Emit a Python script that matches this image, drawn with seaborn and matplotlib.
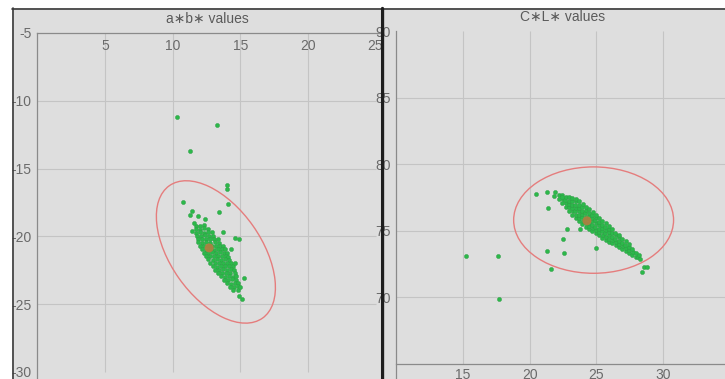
import numpy as np
import pandas as pd
import seaborn as sns
import matplotlib.pyplot as plt
from matplotlib.patches import Ellipse
from matplotlib.lines import Line2D
from matplotlib.ticker import MultipleLocator, FixedLocator

# ---- data: a*b* panel ----
ab_cluster = [
    (11.70, -19.20), (12.00, -19.25), (12.30, -19.15),
    (11.72, -19.45), (12.00, -19.50), (12.30, -19.42), (12.58, -19.48),
    (11.75, -19.72), (12.05, -19.68), (12.35, -19.74), (12.65, -19.70), (12.90, -19.66),
    (11.80, -19.95), (12.10, -19.98), (12.40, -19.93), (12.70, -19.97), (13.00, -19.95),
    (11.85, -20.20), (12.15, -20.23), (12.45, -20.18), (12.75, -20.22), (13.05, -20.20), (13.35, -20.16),
    (11.90, -20.45), (12.20, -20.48), (12.50, -20.43), (12.80, -20.47), (13.10, -20.44), (13.45, -20.46),
    (12.00, -20.70), (12.30, -20.73), (12.60, -20.68), (12.90, -20.72), (13.20, -20.69), (13.50, -20.71), (13.75, -20.70),
    (12.15, -20.95), (12.45, -20.98), (12.75, -20.93), (13.05, -20.97), (13.35, -20.94), (13.65, -20.96), (13.85, -20.92),
    (12.30, -21.20), (12.60, -21.23), (12.90, -21.18), (13.20, -21.22), (13.50, -21.19), (13.80, -21.21), (14.00, -21.20),
    (12.45, -21.45), (12.75, -21.48), (13.05, -21.43), (13.35, -21.47), (13.65, -21.44), (13.95, -21.46), (14.10, -21.50),
    (12.65, -21.70), (12.95, -21.73), (13.25, -21.68), (13.55, -21.72), (13.85, -21.69), (14.20, -21.71),
    (12.80, -21.95), (13.10, -21.98), (13.40, -21.93), (13.70, -21.97), (14.00, -21.94), (14.30, -21.96),
    (12.95, -22.20), (13.25, -22.23), (13.55, -22.18), (13.85, -22.22), (14.15, -22.19), (14.45, -22.21),
    (13.15, -22.45), (13.45, -22.48), (13.75, -22.43), (14.05, -22.47), (14.35, -22.44), (14.55, -22.46),
    (13.35, -22.70), (13.65, -22.73), (13.95, -22.68), (14.25, -22.72), (14.60, -22.69),
    (13.55, -22.95), (13.85, -22.98), (14.15, -22.93), (14.45, -22.97), (14.70, -22.94),
    (13.80, -23.20), (14.10, -23.23), (14.40, -23.18), (14.70, -23.22),
    (14.00, -23.45), (14.30, -23.48), (14.60, -23.43), (14.85, -23.47),
    (14.25, -23.70), (14.55, -23.73), (14.85, -23.68),
    (14.50, -23.95), (14.80, -23.98),
]
ab_scatter = [
    (10.3, -11.2), (13.3, -11.8), (11.3, -13.7), (14.0, -16.2), (14.0, -16.5),
    (14.1, -17.6), (10.8, -17.5), (11.4, -18.1), (11.3, -18.4), (11.9, -18.5),
    (12.4, -18.7), (13.4, -18.2), (13.7, -19.7), (14.6, -20.1), (14.9, -20.2),
    (15.3, -23.1), (15.1, -24.6), (14.9, -24.4), (11.55, -19.0), (11.4, -19.6),
    (14.3, -20.9), (14.6, -22.0), (15.0, -23.7),
]
ab_mean = (12.7, -20.85)
ab_ellipse = dict(center=(13.2, -21.15), width=11.95, height=6.7, angle=-54.8)

# ---- data: C*L* panel ----
cl_cluster = [
    (22.20, 77.40), (22.22, 77.70),
    (22.45, 77.10), (22.47, 77.40), (22.43, 77.65),
    (22.70, 76.80), (22.72, 77.05), (22.68, 77.30), (22.70, 77.55),
    (22.95, 76.50), (22.97, 76.75), (22.93, 77.00), (22.96, 77.25), (22.94, 77.50),
    (23.20, 76.20), (23.22, 76.45), (23.18, 76.70), (23.21, 76.95), (23.19, 77.20), (23.20, 77.45),
    (23.45, 75.95), (23.47, 76.20), (23.43, 76.45), (23.46, 76.70), (23.44, 76.95), (23.45, 77.20), (23.47, 77.35),
    (23.70, 75.70), (23.72, 75.95), (23.68, 76.20), (23.71, 76.45), (23.69, 76.70), (23.70, 76.95), (23.72, 77.20),
    (23.95, 75.50), (23.97, 75.75), (23.93, 76.00), (23.96, 76.25), (23.94, 76.50), (23.95, 76.75), (23.97, 77.00),
    (24.20, 75.30), (24.22, 75.55), (24.18, 75.80), (24.21, 76.05), (24.19, 76.30), (24.20, 76.55), (24.22, 76.80),
    (24.45, 75.10), (24.47, 75.35), (24.43, 75.60), (24.46, 75.85), (24.44, 76.10), (24.45, 76.35), (24.47, 76.60),
    (24.70, 74.95), (24.72, 75.20), (24.68, 75.45), (24.71, 75.70), (24.69, 75.95), (24.70, 76.20), (24.72, 76.40),
    (24.95, 74.80), (24.97, 75.05), (24.93, 75.30), (24.96, 75.55), (24.94, 75.80), (24.95, 76.05), (24.97, 76.20),
    (25.20, 74.65), (25.22, 74.90), (25.18, 75.15), (25.21, 75.40), (25.19, 75.65), (25.20, 75.95),
    (25.45, 74.45), (25.47, 74.70), (25.43, 74.95), (25.46, 75.20), (25.44, 75.45), (25.45, 75.75),
    (25.70, 74.30), (25.72, 74.55), (25.68, 74.80), (25.71, 75.05), (25.69, 75.30), (25.70, 75.55),
    (25.95, 74.15), (25.97, 74.40), (25.93, 74.65), (25.96, 74.90), (25.94, 75.15), (25.95, 75.35),
    (26.20, 74.05), (26.22, 74.30), (26.18, 74.55), (26.21, 74.80), (26.19, 75.10),
    (26.45, 73.90), (26.47, 74.15), (26.43, 74.40), (26.46, 74.65), (26.44, 74.85),
    (26.70, 73.75), (26.72, 74.00), (26.68, 74.25), (26.71, 74.50), (26.69, 74.65),
    (26.95, 73.60), (26.97, 73.85), (26.93, 74.10), (26.96, 74.40),
    (27.20, 73.45), (27.22, 73.70), (27.18, 73.95), (27.21, 74.20),
    (27.45, 73.30), (27.47, 73.55), (27.43, 73.80), (27.46, 74.00),
    (27.70, 73.15), (27.72, 73.40), (27.68, 73.65),
    (27.95, 73.05), (27.97, 73.30),
    (28.15, 73.00), (28.17, 73.20),
]
cl_scatter = [
    (15.2, 73.1), (17.6, 73.1), (17.7, 69.9), (20.5, 77.8), (21.3, 77.9),
    (21.4, 76.7), (22.8, 75.15), (22.5, 74.4), (21.3, 73.5), (22.6, 73.35),
    (21.6, 72.1), (23.8, 75.1), (25.0, 73.7), (28.4, 71.9), (28.6, 72.3),
    (28.8, 72.3), (21.8, 77.6), (22.4, 77.5), (28.3, 72.9), (21.9, 77.9),
]
cl_mean = (24.3, 75.75)
cl_ellipse = dict(center=(24.8, 75.8), width=12.0, height=8.0, angle=0)

ab_xticks = [5, 10, 15, 20, 25]
ab_yticks = [-5, -10, -15, -20, -25, -30]
cl_xticks = [15, 20, 25, 30, 35]
cl_yticks = [70, 75, 80, 85, 90]

green = '#2cb84a'
panel_bg = '#dedede'
grid_c = '#c4c4c4'
axis_c = '#8a8a8a'
text_c = '#6a6a6a'

sns.set_style('white')
plt.rcParams['font.family'] = ['Liberation Sans', 'DejaVu Sans']
plt.rcParams['axes.unicode_minus'] = False

fig = plt.figure(figsize=(7.25, 3.79), dpi=100)
W, H = 725, 379
ax1 = fig.add_axes([12 / W, 0, (380 - 12) / W, (H - 8) / H])
ax2 = fig.add_axes([384 / W, 0, (W - 384) / W, (H - 8) / H])


def draw_panel(ax, cluster, scatter, mean, ell, xticks, yticks, xr, yr, x0, y0, title, tpos):
    ax.set_facecolor(panel_bg)
    # grid limited to the plot range
    ax.vlines([t for t in xticks if xr[0] < t < xr[1]], yr[0], yr[1], color=grid_c, lw=0.8, zorder=0)
    ax.hlines([t for t in yticks if yr[0] < t < yr[1]], xr[0], xr[1], color=grid_c, lw=0.8, zorder=0)

    pts = pd.DataFrame(cluster + scatter, columns=['x', 'y'])
    sns.scatterplot(data=pts, x='x', y='y', ax=ax, color=green, s=9,
                    edgecolor='#2f9a45', linewidth=0.3, legend=False, zorder=3)
    ax.scatter([mean[0]], [mean[1]], s=42, color='#bb7a40', alpha=0.85,
               edgecolor='none', zorder=4)
    ax.add_patch(Ellipse(ell['center'], ell['width'], ell['height'], angle=ell['angle'],
                         fill=False, edgecolor='#e57d7d', lw=1.0, zorder=5))

    for s in ['top', 'right']:
        ax.spines[s].set_visible(False)
    ax.spines['left'].set_position(('data', x0))
    ax.spines['bottom'].set_position(('data', y0))
    ax.spines['left'].set_bounds(yr[0] - 2, yr[1])
    ax.spines['bottom'].set_bounds(xr[0], xr[1] + 2)
    for s in ['left', 'bottom']:
        ax.spines[s].set_color(axis_c)
        ax.spines[s].set_linewidth(0.9)

    ax.xaxis.set_major_locator(FixedLocator(xticks))
    ax.yaxis.set_major_locator(FixedLocator(yticks))
    ax.xaxis.set_minor_locator(MultipleLocator(1))
    ax.yaxis.set_minor_locator(MultipleLocator(1))
    ax.tick_params(which='major', length=3, width=0.7, color=axis_c,
                   labelsize=10, labelcolor=text_c, pad=1)
    ax.tick_params(which='minor', length=1.5, width=0.5, color=axis_c)
    ax.set_xlabel('')
    ax.set_ylabel('')
    ax.text(tpos[0], tpos[1], title, ha='center', va='center',
            fontsize=10, color='#5a5a5a')


draw_panel(ax1, ab_cluster, ab_scatter, ab_mean, ab_ellipse, ab_xticks, ab_yticks,
           (0, 25), (-30, -5), 0, -5, 'a\u2217b\u2217 values', (12.6, -3.95))
ax1.set_xlim(-1.87, 25.33)
ax1.set_ylim(-30.52, -3.16)

draw_panel(ax2, cl_cluster, cl_scatter, cl_mean, cl_ellipse, cl_xticks, cl_yticks,
           (10, 35), (65, 90), 10, 65, 'C\u2217L\u2217 values', (22.5, 91.1))
ax2.set_xlim(9.07, 34.66)
ax2.set_ylim(63.85, 91.75)
ax2.tick_params(axis='x', which='major', pad=0)

# panel frame lines
fig.add_artist(Line2D([12 / W, 1], [1 - 8.5 / H] * 2, color='#3a3a3a', lw=1.2))
fig.add_artist(Line2D([12.5 / W] * 2, [0, 1 - 8 / H], color='#3a3a3a', lw=1.2))
fig.add_artist(Line2D([382 / W] * 2, [0, 1 - 8 / H], color='#1e1e1e', lw=2.4))

fig.savefig('out.png', dpi=100, facecolor='white')
